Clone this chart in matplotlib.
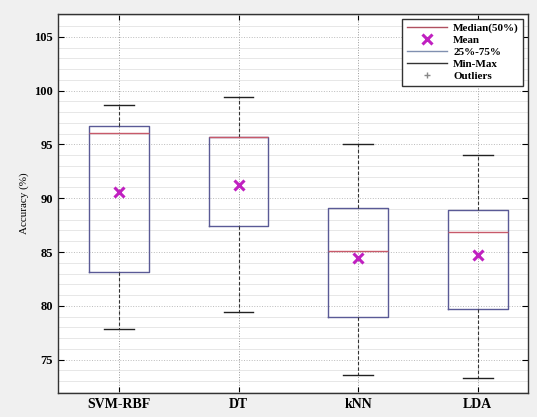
#!/usr/bin/env python3
"""
Boxplot de accuracy por clasificador.
"""

import matplotlib
matplotlib.use('Agg')
import matplotlib.pyplot as plt
from matplotlib.lines import Line2D


# Datos
models = ['SVM-RBF', 'DT', 'kNN', 'LDA']
whisker_low = [77.8, 79.4, 73.6, 73.3]
q1 = [83.1, 87.4, 79.0, 79.75]
median = [96.1, 95.7, 85.1, 86.9]
q3 = [96.75, 95.7, 89.1, 88.9]
whisker_high = [98.7, 99.4, 95.0, 94.0]
mean = [90.6, 91.2, 84.4, 84.7]


def main():
    plt.rcParams['font.family'] = ['Liberation Serif', 'DejaVu Serif']

    fig = plt.figure(figsize=(5.37, 4.17), dpi=100, facecolor='#f0f0f0')
    ax = fig.add_axes([0.108, 0.0576, 0.875, 0.9084])

    stats = []
    for i, name in enumerate(models):
        stats.append({'label': name, 'whislo': whisker_low[i], 'q1': q1[i],
                      'med': median[i], 'q3': q3[i], 'whishi': whisker_high[i],
                      'mean': mean[i], 'fliers': []})

    box_col = '#5a5a96'
    ax.bxp(stats, positions=range(1, len(models) + 1), widths=0.5,
           showmeans=True, showfliers=False,
           boxprops=dict(color=box_col, linewidth=1.0),
           whiskerprops=dict(color='#333333', linewidth=0.8, linestyle=(0, (3, 2))),
           capprops=dict(color='#222222', linewidth=1.0),
           medianprops=dict(color='#c85a6a', linewidth=1.0),
           meanprops=dict(marker='x', markeredgecolor='#c020c0',
                          markersize=7, markeredgewidth=2.2))

    ax.set_xlim(0.49, 4.42)
    ax.set_ylim(71.9, 107.1)
    ax.set_yticks([75, 80, 85, 90, 95, 100, 105])
    ax.set_yticks(range(72, 108), minor=True)
    ax.set_xticks(range(1, len(models) + 1))
    ax.set_xticklabels(models, fontsize=10, fontweight='bold')
    for lab in ax.get_yticklabels():
        lab.set_fontweight('bold')
        lab.set_fontsize(9)
    ax.set_ylabel('Accuracy (%)', fontsize=8)

    ax.grid(True, which='major', axis='y', color='#bbbbbb', linestyle=':', linewidth=0.7)
    ax.grid(True, which='minor', axis='y', color='#dddddd', linestyle='-', linewidth=0.5)
    ax.grid(True, which='major', axis='x', color='#999999', linestyle=':', linewidth=0.7)
    ax.tick_params(which='minor', length=0)
    ax.tick_params(which='major', direction='in', length=4, right=True, top=True)
    for sp in ax.spines.values():
        sp.set_linewidth(1.0)
        sp.set_color('#333333')

    handles = [
        Line2D([], [], color='#b05060', linewidth=1.0),
        Line2D([], [], color='#c020c0', marker='x', linestyle='none',
               markersize=7, markeredgewidth=2.2),
        Line2D([], [], color='#8090b0', linewidth=1.0),
        Line2D([], [], color='#333333', linewidth=1.0),
        Line2D([], [], color='#888888', marker='+', linestyle='none', markersize=5),
    ]
    labels = ['Median(50%)', 'Mean', '25%-75%', 'Min-Max', 'Outliers']
    ax.legend(handles, labels, loc='upper right', fancybox=False,
              edgecolor='#333333', framealpha=1,
              prop={'family': 'Liberation Serif', 'weight': 'bold', 'size': 8},
              handlelength=3.6, labelspacing=0.2, borderaxespad=0.4,
              borderpad=0.4, handletextpad=0.6)

    plt.savefig('out.png', dpi=100, facecolor=fig.get_facecolor())


if __name__ == '__main__':
    main()
